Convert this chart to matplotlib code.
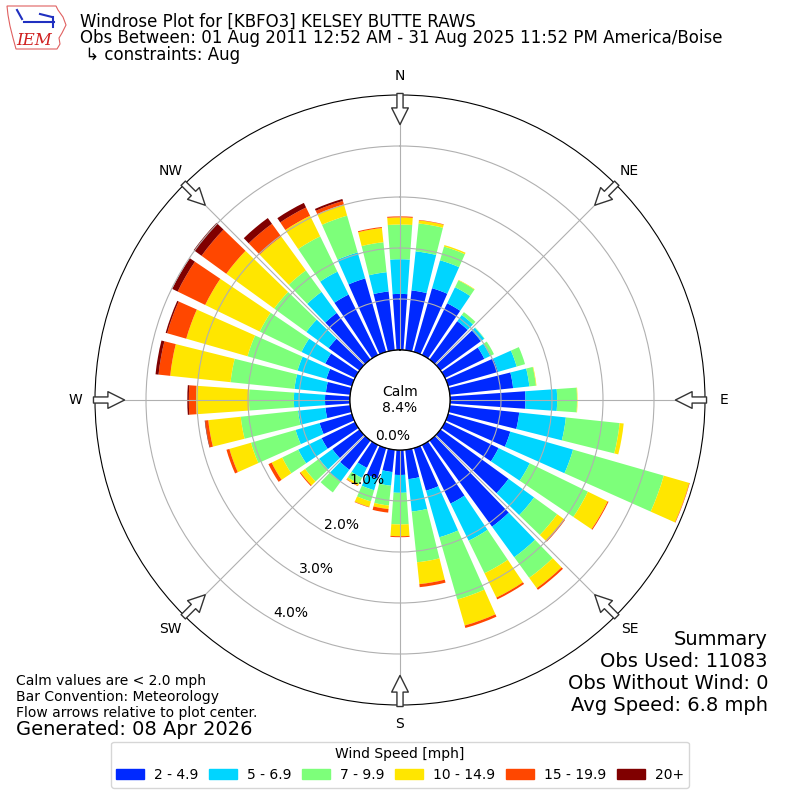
import numpy as np
import matplotlib
matplotlib.use("Agg")
import matplotlib.pyplot as plt
from matplotlib.patches import Patch, Polygon
from matplotlib.lines import Line2D

# wind direction bins (deg, meteorological), 10 deg wide
directions = np.arange(0, 360, 10)
speed_labels = ["2 - 4.9", "5 - 6.9", "7 - 9.9", "10 - 14.9", "15 - 19.9", "20+"]

# percent of observations in each direction, per speed bin
spd_2_5 = [1.10, 1.18, 1.30, 1.13, 0.93, 0.98, 0.86, 1.02, 1.25, 1.48, 1.37, 1.27,
           1.17, 1.65, 2.09, 1.28, 0.87, 0.58, 0.49, 0.44, 0.62, 0.50, 0.71, 0.66,
           0.73, 0.66, 0.49, 0.49, 0.48, 0.52, 0.65, 0.75, 1.13, 1.32, 1.50, 1.16]
spd_5_7 = [0.68, 0.77, 0.57, 0.35, 0.15, 0.08, 0.13, 0.38, 0.32, 0.62, 0.92, 1.28,
           0.68, 0.62, 0.74, 0.81, 0.95, 0.64, 0.35, 0.27, 0.24, 0.22, 0.29, 0.32,
           0.51, 0.49, 0.54, 0.61, 0.62, 0.59, 0.52, 0.54, 0.51, 0.50, 0.53, 0.38]
spd_7_10 = [0.68, 0.55, 0.28, 0.15, 0.07, 0.01, 0.08, 0.17, 0.13, 0.39, 1.06, 1.85,
            1.27, 0.56, 0.50, 0.71, 1.27, 1.00, 0.62, 0.39, 0.23, 0.13, 0.26, 0.34,
            0.35, 0.91, 1.13, 0.88, 1.26, 1.02, 0.91, 0.78, 0.52, 0.77, 0.75, 0.59]
spd_10_15 = [0.14, 0.06, 0.03, 0.01, 0.00, 0.00, 0.00, 0.00, 0.01, 0.01, 0.08, 0.52,
             0.43, 0.16, 0.25, 0.53, 0.53, 0.43, 0.23, 0.07, 0.11, 0.04, 0.00, 0.11,
             0.23, 0.44, 0.64, 1.04, 1.19, 1.25, 1.19, 1.16, 0.82, 0.45, 0.23, 0.28]
spd_15_20 = [0.02, 0.01, 0.00, 0.00, 0.00, 0.00, 0.00, 0.00, 0.00, 0.00, 0.00, 0.01,
             0.02, 0.03, 0.04, 0.04, 0.05, 0.06, 0.02, 0.07, 0.01, 0.01, 0.00, 0.02,
             0.07, 0.06, 0.06, 0.14, 0.23, 0.39, 0.60, 0.60, 0.31, 0.18, 0.07, 0.02]
spd_20up = [0.00, 0.00, 0.00, 0.00, 0.00, 0.00, 0.00, 0.00, 0.00, 0.00, 0.00, 0.00,
            0.00, 0.00, 0.00, 0.00, 0.00, 0.00, 0.00, 0.00, 0.00, 0.00, 0.00, 0.00,
            0.00, 0.00, 0.01, 0.03, 0.06, 0.03, 0.12, 0.19, 0.14, 0.10, 0.04, 0.00]

calm_pct = 8.4
obs_used = 11083
obs_without_wind = 0
avg_speed = 6.8

compass_deg = np.arange(0, 360, 45)
compass_labels = ["N", "NE", "E", "SE", "S", "SW", "W", "NW"]
rticks = [0, 1, 2, 3, 4]

cmap = plt.get_cmap("jet")
colors = [cmap(i / 6.0) for i in range(1, 7)]

fig = plt.figure(figsize=(8, 8), dpi=100)
ax = fig.add_axes([0.11875, 0.11875, 0.7625, 0.7625], projection="polar")
ax.set_theta_zero_location("N")
ax.set_theta_direction(-1)

theta = np.deg2rad(directions)
bottom = np.zeros(len(directions))
series = [spd_2_5, spd_5_7, spd_7_10, spd_10_15, spd_15_20, spd_20up]
for vals, col, lab in zip(series, colors, speed_labels):
    vals = np.array(vals)
    ax.bar(theta, vals, width=np.deg2rad(8), bottom=bottom, color=col,
           linewidth=0, label=lab)
    bottom = bottom + vals

ax.set_ylim(0, 5)
ax.set_rorigin(-0.98)
ax.set_yticks(rticks)
ax.set_yticklabels(["%.1f%%" % t for t in rticks], fontsize=10)
ax.set_rlabel_position(210)
ax.set_xticks(np.deg2rad(compass_deg))
ax.set_xticklabels(compass_labels, fontsize=10)
ax.tick_params(axis="x", pad=3.5)

# calm circle
circ = np.linspace(0, 2 * np.pi, 300)
ax.plot(circ, np.zeros_like(circ), color="k", lw=1)
ax.text(0, -0.98, "Calm\n%.1f%%" % calm_pct, ha="center", va="center", fontsize=10)

# flow arrows on the rim
for d in compass_deg:
    th = np.deg2rad(d)
    ax.annotate("", xy=(th, 4.42), xytext=(th, 5.03),
                arrowprops=dict(arrowstyle="simple,head_length=0.6,head_width=0.6,tail_width=0.22",
                                fc="white", ec="#333333", lw=1, shrinkA=0, shrinkB=0,
                                mutation_scale=20),
                annotation_clip=False)

H = 800.0
fig.text(80 / H, 1 - 26.5 / H, "Windrose Plot for [KBFO3] KELSEY BUTTE RAWS",
         fontsize=12, va="baseline")
fig.text(80 / H, 1 - 43 / H,
         "Obs Between: 01 Aug 2011 12:52 AM - 31 Aug 2025 11:52 PM America/Boise",
         fontsize=12, va="baseline")
fig.text(80 / H, 1 - 60.5 / H, " \u21b3 constraints: Aug", fontsize=12, va="baseline")

# rough IEM logo
logo = Polygon([(7, 6), (56, 6), (58, 10), (63, 17), (66, 25), (62, 33), (59, 38),
                (60, 44), (57, 49), (16, 49), (13, 38), (10, 26), (8, 15)],
               closed=True, fill=False, ec="#e06060", lw=0.8,
               transform=fig.transFigure)
logo.set_xy([(x / H, 1 - y / H) for x, y in logo.get_xy()])
fig.patches.append(logo)
for xs, ys in [((24, 54), (22, 22)), ((17, 22), (10, 19)), ((40, 52), (14, 17)),
               ((53, 53), (17, 27))]:
    fig.add_artist(Line2D([x / H for x in xs], [1 - y / H for y in ys],
                          color="#2030c0", lw=1.5, transform=fig.transFigure))
fig.text(16 / H, 1 - 45 / H, "IEM", fontsize=12, color="#d02020", style="italic",
         family="serif", va="baseline")

fig.text(16 / H, 1 - 685 / H, "Calm values are < 2.0 mph", fontsize=10, va="baseline")
fig.text(16 / H, 1 - 701 / H, "Bar Convention: Meteorology", fontsize=10, va="baseline")
fig.text(16 / H, 1 - 717 / H, "Flow arrows relative to plot center.", fontsize=10,
         va="baseline")
fig.text(16 / H, 1 - 735 / H, "Generated: 08 Apr 2026", fontsize=14, va="baseline")

summary = ["Summary", "Obs Used: %d" % obs_used,
           "Obs Without Wind: %d" % obs_without_wind,
           "Avg Speed: %.1f mph" % avg_speed]
for i, line in enumerate(summary):
    fig.text(768 / H, 1 - (645 + 22 * i) / H, line, fontsize=14, ha="right",
             va="baseline")

handles = [Patch(color=c, label=l) for c, l in zip(colors, speed_labels)]
fig.legend(handles=handles, loc="lower center", ncol=6, bbox_to_anchor=(0.5, 5.5 / H),
           title="Wind Speed [mph]", fontsize=10, title_fontsize=10,
           columnspacing=0.8, handletextpad=0.7)

fig.savefig("out.png", dpi=100)
